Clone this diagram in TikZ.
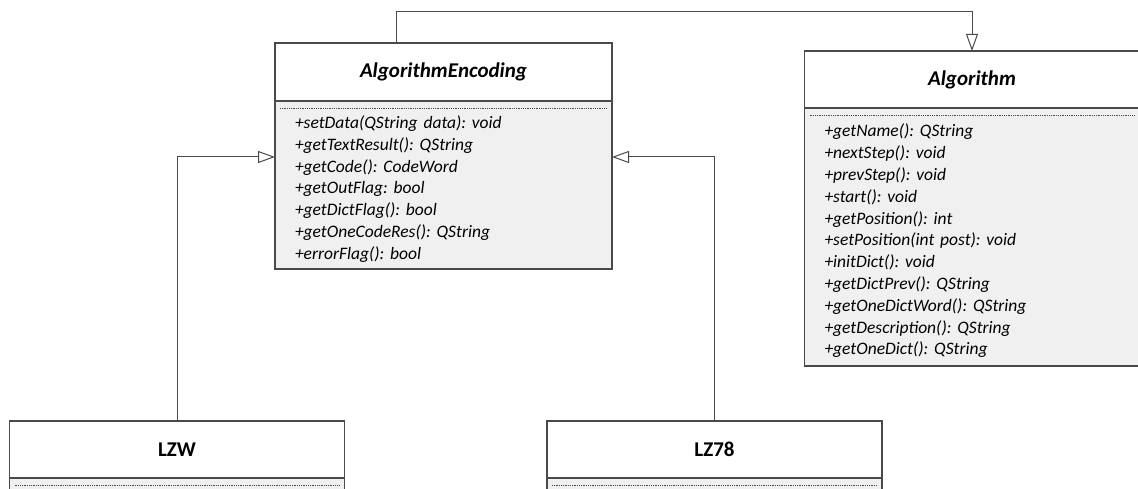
\documentclass[tikz,border=0pt]{standalone}
\usepackage{fontspec}
\setmainfont{Carlito}
\usepackage{tikz}
\usetikzlibrary{arrows.meta,calc,positioning}
\definecolor{rahmen}{HTML}{4A4A4A}
\definecolor{koerper}{HTML}{F0F0F0}
\frenchspacing
\newcommand\oben{\rule{0pt}{21pt}}

\begin{document}
\begin{tikzpicture}[x=1pt,y=1pt,
  kopf/.style={draw=rahmen,line width=1.3pt,fill=white,outer sep=0pt,inner sep=0pt,
    minimum width=335pt,minimum height=57pt,font=\fontsize{21}{25}\selectfont\bfseries\itshape},
  koerperbox/.style={draw=rahmen,line width=1.3pt,fill=koerper,outer sep=0pt,inner xsep=20pt,inner ysep=0pt,
    text width=295pt,align=left,font=\fontsize{17.5}{21.8}\selectfont\itshape},
  trenner/.style={rahmen,line width=0.7pt,dash pattern=on 1pt off 0.8pt},
  vererbung/.style={draw=rahmen,line width=1pt,-{Triangle[open,length=17pt,width=12pt]}}]
%Seite ist 1138 x 488, eine Einheit = ein Pixel
\clip (0,0) rectangle (1138,488);
\fill[white] (0,0) rectangle (1138,488);
%Klassen
\node[kopf,minimum width=337pt,minimum height=58pt] (enc) at (443.5,416) {AlgorithmEncoding};
\node[koerperbox,text width=297pt,minimum height=168pt,below=0pt of enc] (encbody) {%
\oben+setData(QString data): void\\
+getTextResult(): QString\\
+getCode(): CodeWord\\
+getOutFlag: bool\\
+getDictFlag(): bool\\
+getOneCodeRes(): QString\\
+errorFlag(): bool};
\node[kopf] (alg) at (972,408.5) {Algorithm};
\node[koerperbox,minimum height=258pt,below=0pt of alg] (algbody) {%
\oben+getName(): QString\\
+nextStep(): void\\
+prevStep(): void\\
+start(): void\\
+getPosition(): int\\
+setPosition(int post): void\\
+initDict(): void\\
+getDictPrev(): QString\\
+getOneDictWord(): QString\\
+getDescription(): QString\\
+getOneDict(): QString};
\node[kopf,font=\fontsize{21}{25}\selectfont\bfseries] (lzw) at (177,38.5) {LZW};
\node[koerperbox,minimum height=40pt,below=0pt of lzw] (lzwbody) {};
\node[kopf,font=\fontsize{21}{25}\selectfont\bfseries] (lz78) at (714.5,38.5) {LZ78};
\node[koerperbox,minimum height=40pt,below=0pt of lz78] (lz78body) {};
%gestrichelte Trennlinien
\foreach \k in {encbody,algbody,lzwbody,lz78body}{
\draw[trenner] ($(\k.north west)+(5,-7)$) -- ($(\k.north east)+(-5,-7)$);
}
%Vererbung
\draw[vererbung] ([xshift=-47.5pt]enc.north) -- ++(0,31) -| (alg.north);
\draw[vererbung] (lzw.north) |- ([yshift=28pt]encbody.west);
\draw[vererbung] (lz78.north) |- ([yshift=28pt]encbody.east);
\end{tikzpicture}
\end{document}
